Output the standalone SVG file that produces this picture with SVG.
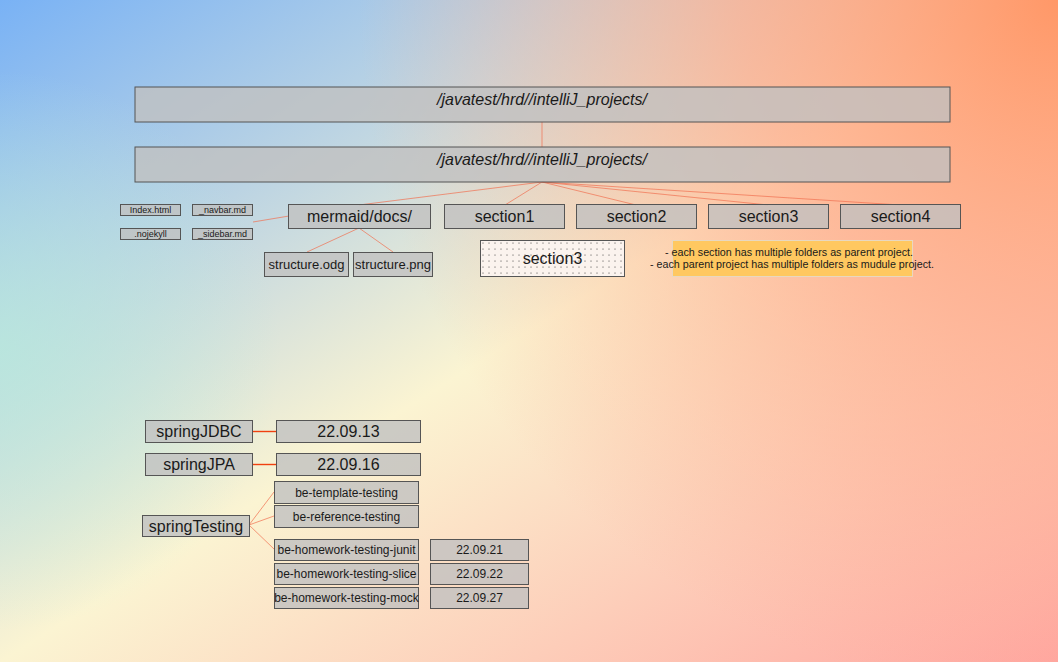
<svg xmlns="http://www.w3.org/2000/svg" width="1058" height="662" viewBox="0 0 1058 662">
  <defs>
    <linearGradient id="bg" x1="0" y1="0" x2="1" y2="1">
      <stop offset="0" stop-color="#79b2f5"/>
      <stop offset="0.5" stop-color="#fbf4d2"/>
      <stop offset="1" stop-color="#ffa6a0"/>
    </linearGradient>
    <radialGradient id="tr" cx="1058" cy="0" r="700" gradientUnits="userSpaceOnUse">
      <stop offset="0" stop-color="#ff9868" stop-opacity="1"/>
      <stop offset="0.45" stop-color="#ffa888" stop-opacity="0.72"/>
      <stop offset="1" stop-color="#ffb090" stop-opacity="0"/>
    </radialGradient>
    <radialGradient id="lm" cx="0" cy="350" r="280" gradientUnits="userSpaceOnUse">
      <stop offset="0" stop-color="#b8eadc" stop-opacity="0.75"/>
      <stop offset="1" stop-color="#b8eadc" stop-opacity="0"/>
    </radialGradient>
    <pattern id="dots" width="6" height="6" patternUnits="userSpaceOnUse">
      <rect width="6" height="6" fill="#fbf3ee"/>
      <circle cx="3" cy="3" r="0.55" fill="#333"/>
    </pattern>
    <style>
      .box { fill: #c0c0c0; fill-opacity: 0.8; stroke: #555; stroke-width: 1; }
      .t { font-family: "Liberation Sans", Arial, sans-serif; fill: #1a1a1a; text-anchor: middle; }
      .title { font-size: 17px; font-style: italic; }
      .big { font-size: 16px; }
      .mid { font-size: 13px; }
      .sm { font-size: 12px; }
      .xs { font-size: 9px; }
      .note { font-size: 11px; }
      .c { stroke: #f07050; stroke-width: 0.7; fill: none; }
      .c2 { stroke: #f04010; stroke-width: 1.4; fill: none; }
    </style>
  </defs>
  <rect width="1058" height="662" fill="url(#bg)"/>
  <rect width="1058" height="662" fill="url(#lm)"/>
  <rect width="1058" height="662" fill="url(#tr)"/>

  <g id="connectors">
    <line class="c" x1="542" y1="122" x2="542" y2="147"/>
    <line class="c" x1="542" y1="182" x2="359" y2="205"/>
    <line class="c" x1="542" y1="182" x2="505" y2="205"/>
    <line class="c" x1="542" y1="182" x2="636" y2="205"/>
    <line class="c" x1="542" y1="182" x2="768" y2="205"/>
    <line class="c" x1="542" y1="182" x2="900" y2="205"/>
    <line class="c" x1="253" y1="222" x2="289" y2="216"/>
    <line class="c" x1="359" y1="228" x2="307" y2="252"/>
    <line class="c" x1="359" y1="228" x2="393" y2="252"/>
    <line class="c2" x1="253" y1="431.5" x2="277" y2="431.5"/>
    <line class="c2" x1="253" y1="464.5" x2="277" y2="464.5"/>
    <line class="c" x1="249" y1="525" x2="274" y2="492"/>
    <line class="c" x1="249" y1="525" x2="274" y2="516"/>
    <line class="c" x1="249" y1="525" x2="274" y2="549"/>
  </g>

  <g id="root1">
    <rect class="box" x="135" y="87" width="815" height="35"/>
    <text class="t title" x="542" y="105" textLength="210" lengthAdjust="spacingAndGlyphs">/javatest/hrd//intelliJ_projects/</text>
  </g>
  <g id="root2">
    <rect class="box" x="135" y="147" width="815" height="35"/>
    <text class="t title" x="542" y="165" textLength="210" lengthAdjust="spacingAndGlyphs">/javatest/hrd//intelliJ_projects/</text>
  </g>

  <g id="index">
    <rect class="box" x="120.5" y="204.5" width="60" height="11"/>
    <text class="t xs" x="150.5" y="213">Index.html</text>
  </g>
  <g id="navbar">
    <rect class="box" x="192.5" y="204.5" width="60" height="11"/>
    <text class="t xs" x="222.5" y="213">_navbar.md</text>
  </g>
  <g id="nojekyll">
    <rect class="box" x="120.5" y="228.5" width="60" height="11"/>
    <text class="t xs" x="150.5" y="237">.nojekyll</text>
  </g>
  <g id="sidebar">
    <rect class="box" x="192.5" y="228.5" width="60" height="11"/>
    <text class="t xs" x="222.5" y="237">_sidebar.md</text>
  </g>

  <g id="mermaid">
    <rect class="box" x="288.5" y="204.5" width="142" height="24"/>
    <text class="t big" x="359.5" y="222">mermaid/docs/</text>
  </g>
  <g id="section1">
    <rect class="box" x="444.5" y="204.5" width="120" height="24"/>
    <text class="t big" x="504.5" y="222">section1</text>
  </g>
  <g id="section2">
    <rect class="box" x="576.5" y="204.5" width="120" height="24"/>
    <text class="t big" x="636.5" y="222">section2</text>
  </g>
  <g id="section3">
    <rect class="box" x="708.5" y="204.5" width="120" height="24"/>
    <text class="t big" x="768.5" y="222">section3</text>
  </g>
  <g id="section4">
    <rect class="box" x="840.5" y="204.5" width="120" height="24"/>
    <text class="t big" x="900.5" y="222">section4</text>
  </g>

  <g id="structure-odg">
    <rect class="box" x="264.5" y="252.5" width="84" height="24"/>
    <text class="t mid" x="306.5" y="269">structure.odg</text>
  </g>
  <g id="structure-png">
    <rect class="box" x="353.5" y="252.5" width="79" height="24"/>
    <text class="t mid" x="393" y="269">structure.png</text>
  </g>

  <g id="section3-legend">
    <rect x="480.5" y="240.5" width="144" height="36" fill="url(#dots)" stroke="#555" stroke-width="1"/>
    <text class="t big" x="552.5" y="264">section3</text>
  </g>

  <g id="note">
    <rect x="672.5" y="240.5" width="240" height="36" fill="#ffc860" stroke="#e8d8c0" stroke-width="1"/>
    <text class="t note" x="789" y="255.5" textLength="248" lengthAdjust="spacingAndGlyphs">- each section has multiple folders as parent project.</text>
    <text class="t note" x="792" y="267.5" textLength="284" lengthAdjust="spacingAndGlyphs">- each parent project has multiple folders as mudule project.</text>
  </g>

  <g id="springJDBC">
    <rect class="box" x="145.5" y="420.5" width="107" height="22"/>
    <text class="t big" x="199" y="437">springJDBC</text>
  </g>
  <g id="d220913">
    <rect class="box" x="276.5" y="420.5" width="144" height="22"/>
    <text class="t big" x="348.5" y="437">22.09.13</text>
  </g>
  <g id="springJPA">
    <rect class="box" x="145.5" y="453.5" width="107" height="22"/>
    <text class="t big" x="199" y="470">springJPA</text>
  </g>
  <g id="d220916">
    <rect class="box" x="276.5" y="453.5" width="144" height="22"/>
    <text class="t big" x="348.5" y="470">22.09.16</text>
  </g>

  <g id="springTesting">
    <rect class="box" x="142.5" y="515.5" width="107" height="21"/>
    <text class="t big" x="196" y="531.5">springTesting</text>
  </g>
  <g id="be-template-testing">
    <rect class="box" x="274.5" y="481.5" width="144" height="22"/>
    <text class="t sm" x="346.5" y="496.5">be-template-testing</text>
  </g>
  <g id="be-reference-testing">
    <rect class="box" x="274.5" y="505.5" width="144" height="22"/>
    <text class="t sm" x="346.5" y="520.5">be-reference-testing</text>
  </g>
  <g id="be-homework-testing-junit">
    <rect class="box" x="274.5" y="539.5" width="144" height="21"/>
    <text class="t sm" x="346.5" y="554">be-homework-testing-junit</text>
  </g>
  <g id="be-homework-testing-slice">
    <rect class="box" x="274.5" y="563.5" width="144" height="21"/>
    <text class="t sm" x="346.5" y="578">be-homework-testing-slice</text>
  </g>
  <g id="be-homework-testing-mock">
    <rect class="box" x="274.5" y="587.5" width="144" height="21"/>
    <text class="t sm" x="346.5" y="602">be-homework-testing-mock</text>
  </g>
  <g id="d220921">
    <rect class="box" x="430.5" y="539.5" width="98" height="21"/>
    <text class="t sm" x="479.5" y="554">22.09.21</text>
  </g>
  <g id="d220922">
    <rect class="box" x="430.5" y="563.5" width="98" height="21"/>
    <text class="t sm" x="479.5" y="578">22.09.22</text>
  </g>
  <g id="d220927">
    <rect class="box" x="430.5" y="587.5" width="98" height="21"/>
    <text class="t sm" x="479.5" y="602">22.09.27</text>
  </g>
</svg>
